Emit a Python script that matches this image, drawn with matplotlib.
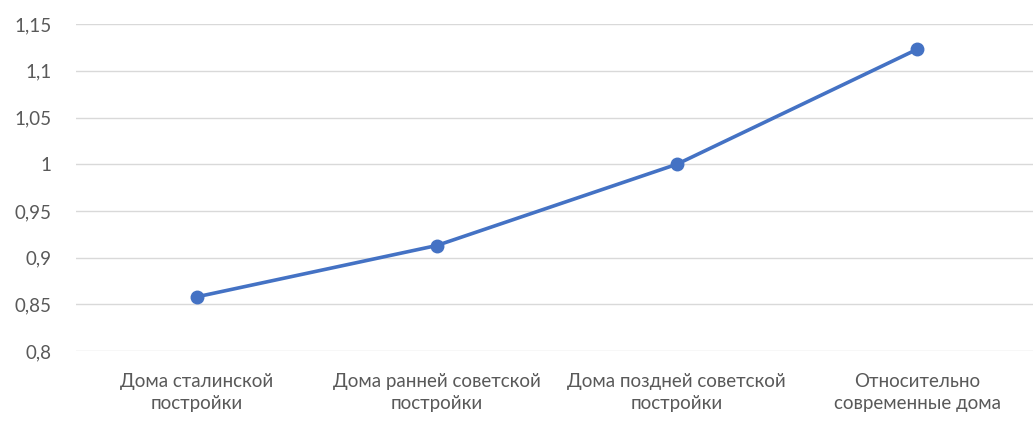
import matplotlib.pyplot as plt
from matplotlib.ticker import FuncFormatter

# Категории домов и значения коэффициента
категории = ['Дома сталинской\nпостройки',
             'Дома ранней советской\nпостройки',
             'Дома поздней советской\nпостройки',
             'Относительно\nсовременные дома']
значения = [0.858, 0.913, 1.0, 1.123]
деления_y = [0.8, 0.85, 0.9, 0.95, 1.0, 1.05, 1.1, 1.15]

plt.rcParams['font.family'] = ['Lato', 'DejaVu Sans']

fig = plt.figure(figsize=(10.33, 4.23), dpi=100)
ax = fig.add_axes([0.074, 0.170, 0.93, 0.773])

x = range(len(категории))
ax.plot(x, значения, color='#4472C4', linewidth=2.6, marker='o',
        markersize=9, zorder=3)

ax.set_xlim(-0.5, len(категории) - 0.5)
ax.set_ylim(0.8, 1.15)
ax.set_yticks(деления_y)
ax.yaxis.set_major_formatter(
    FuncFormatter(lambda v, p: ('%g' % round(v, 2)).replace('.', ',')))
ax.set_xticks(list(x))
ax.set_xticklabels(категории, fontsize=13.5, color='#595959', linespacing=1.35)
ax.tick_params(axis='y', labelsize=13.5, labelcolor='#595959', length=0, pad=18)
ax.tick_params(axis='x', length=0, pad=16)

ax.grid(axis='y', color='#D9D9D9', linewidth=1)
ax.set_axisbelow(True)
for s in ax.spines.values():
    s.set_visible(False)

fig.savefig('out.png', dpi=100)
